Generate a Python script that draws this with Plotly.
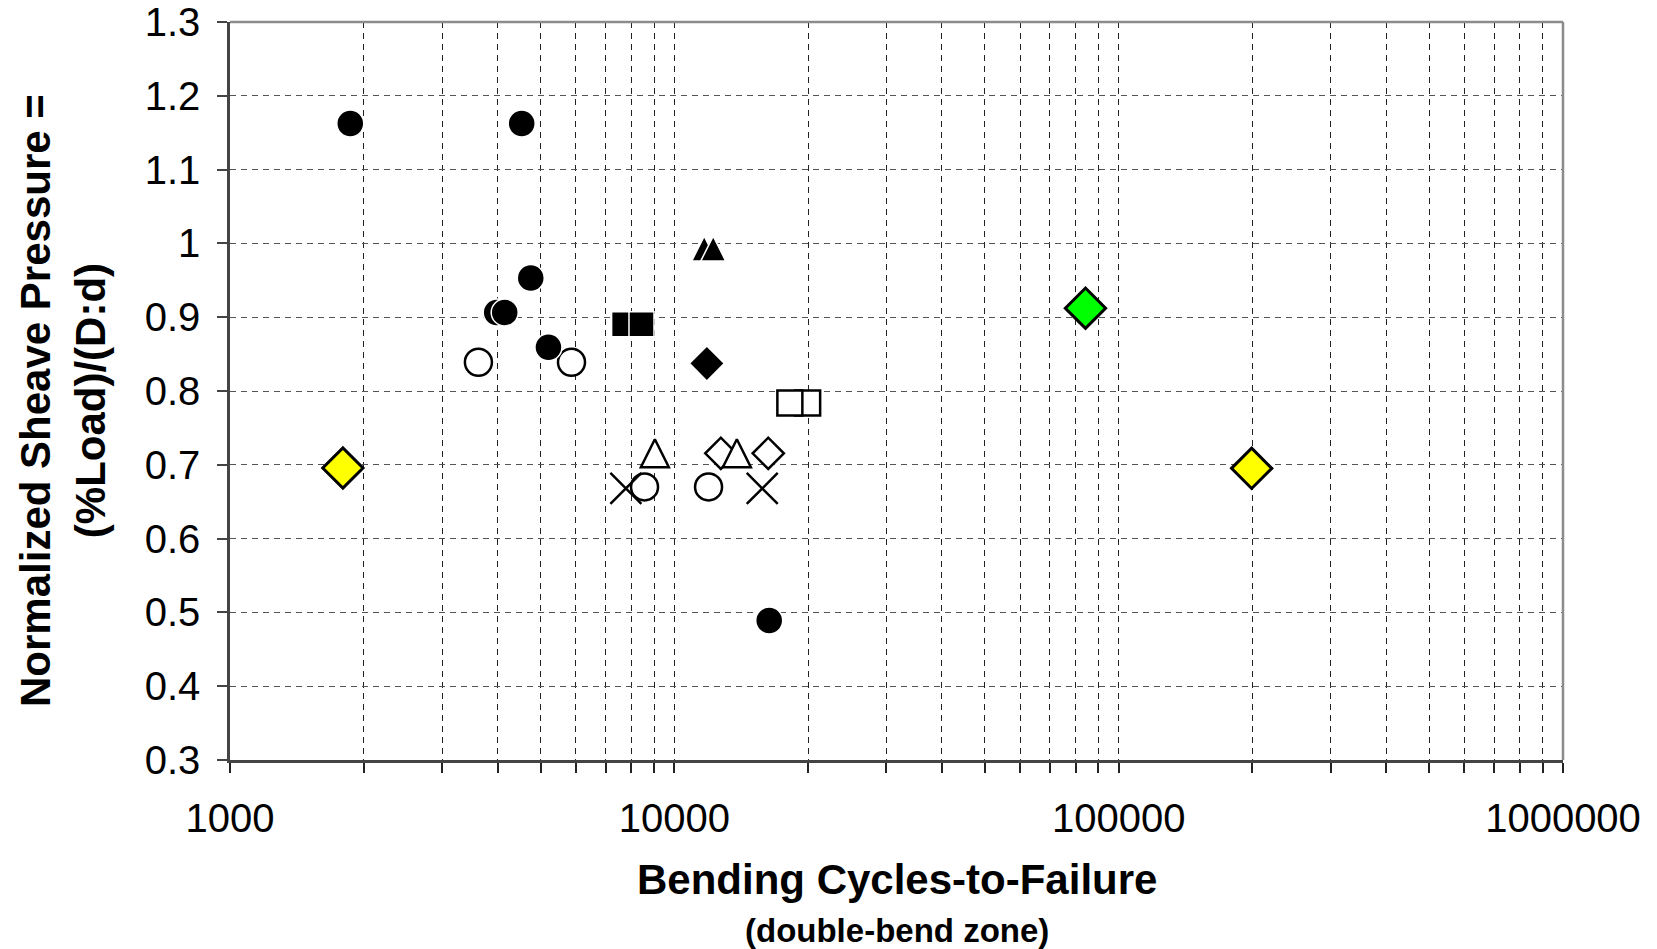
import plotly.graph_objects as go

# ---------------- data ----------------
filled_circle_x = [1865, 4534, 4752, 3983, 4152, 5208, 16350]
filled_circle_y = [1.1625, 1.1625, 0.953, 0.9064, 0.9064, 0.8594, 0.489]

open_circle_x = [3623, 5869, 8569, 11940]
open_circle_y = [0.839, 0.839, 0.670, 0.670]

filled_triangle_x = [11674, 12233]
filled_triangle_y = [0.993, 0.993]

filled_square_x = [7709, 8435]
filled_square_y = [0.8905, 0.8905]

filled_diamond_x = [11836]
filled_diamond_y = [0.8374]

open_square_x = [19953, 18197]
open_square_y = [0.7836, 0.7836]

open_diamond_x = [12725, 16268]
open_diamond_y = [0.7156, 0.7156]

open_triangle_x = [9040, 13826]
open_triangle_y = [0.7156, 0.7156]

cross_x = [7779, 15770]
cross_y = [0.668, 0.668]

yellow_diamond_x = [1795, 199200]
yellow_diamond_y = [0.6957, 0.6952]

green_diamond_x = [84200]
green_diamond_y = [0.9122]

# ticks
x_decades = [1000, 10000, 100000, 1000000]
x_tick_vals = []
x_tick_text = []
for d in x_decades:
    for m in range(1, 10):
        if d == 1000000 and m > 1:
            break
        x_tick_vals.append(d * m)
        x_tick_text.append(str(d) if m == 1 else "")

y_tick_vals = [0.3, 0.4, 0.5, 0.6, 0.7, 0.8, 0.9, 1.0, 1.1, 1.2, 1.3]
y_tick_text = ["0.3", "0.4", "0.5", "0.6", "0.7", "0.8", "0.9", "1", "1.1", "1.2", "1.3"]

FONT = "Liberation Sans, Arial, sans-serif"

fig = go.Figure()

def add(x, y, symbol, size, color, lcolor, lwidth, **extra):
    marker = dict(symbol=symbol, size=size, color=color,
                  line=dict(color=lcolor, width=lwidth))
    marker.update(extra)
    fig.add_trace(go.Scatter(
        x=x, y=y, mode="markers", marker=marker,
        showlegend=False, hoverinfo="x+y"))

add(open_circle_x, open_circle_y, "circle", 27, "white", "black", 2.5)
add(filled_circle_x, filled_circle_y, "circle", 27, "black", "white", 1.5)
# upright triangle centred on the point: arrow-down rotated 180 deg, shifted by half its height
add(filled_triangle_x, filled_triangle_y, "arrow-down", 25, "black", "white", 1.5,
    angle=180, standoff=12.5)
add(filled_square_x, filled_square_y, "square", 25, "black", "white", 1.5)
add(filled_diamond_x, filled_diamond_y, "diamond", 27, "black", "white", 1.5)
add(open_square_x, open_square_y, "square", 25, "white", "black", 2.5)
add(open_diamond_x, open_diamond_y, "diamond", 24, "white", "black", 2.5)
add(open_triangle_x, open_triangle_y, "arrow-down", 28, "white", "black", 2.5,
    angle=180, standoff=14)
add(cross_x, cross_y, "x-thin-open", 31, "black", "black", 2.5)
add(yellow_diamond_x, yellow_diamond_y, "diamond", 31, "#FFFF00", "black", 3)
add(green_diamond_x, green_diamond_y, "diamond", 31, "#00FF00", "black", 3)

fig.update_xaxes(
    type="log", range=[3, 6], automargin=False,
    tickvals=x_tick_vals, ticktext=x_tick_text,
    ticks="outside", ticklen=10, tickwidth=1.5, tickcolor="#222222",
    showgrid=True, gridcolor="#222222", gridwidth=1, griddash="6px,5px",
    showline=True, linecolor="#444444", linewidth=2.5, mirror=False,
    zeroline=False,
    tickfont=dict(family=FONT, size=40, color="black"),
    ticklabelstandoff=11,
)
fig.update_yaxes(
    range=[0.3, 1.3], automargin=False,
    tickvals=y_tick_vals, ticktext=y_tick_text,
    ticks="outside", ticklen=10, tickwidth=1.5, tickcolor="#444444",
    showgrid=True, gridcolor="#555555", gridwidth=1, griddash="6px,5px",
    showline=True, linecolor="#444444", linewidth=2.5, mirror=False,
    zeroline=False,
    tickfont=dict(family=FONT, size=40, color="black"),
    ticklabelstandoff=9,
)

# top and right borders of the plot area (lighter grey)
fig.add_shape(type="line", xref="paper", yref="paper", x0=0, x1=1, y0=1, y1=1,
              line=dict(color="#8c8c8c", width=2.5))
fig.add_shape(type="line", xref="paper", yref="paper", x0=1, x1=1, y0=0, y1=1,
              line=dict(color="#8c8c8c", width=2.5))

fig.add_annotation(text="<b>Bending Cycles-to-Failure</b>", xref="paper", yref="paper",
                   x=0.5, y=-0.1626, xanchor="center", yanchor="middle", showarrow=False,
                   font=dict(family=FONT, size=42, color="black"))
fig.add_annotation(text="<b>(double-bend zone)</b>", xref="paper", yref="paper",
                   x=0.5, y=-0.2304, xanchor="center", yanchor="middle", showarrow=False,
                   font=dict(family=FONT, size=33, color="black"))
fig.add_annotation(text="<b>Normalized Sheave Pressure =<br>(%Load)/(D:d)</b>",
                   xref="paper", yref="paper", x=-0.1253, y=0.4878, textangle=-90,
                   xanchor="center", yanchor="middle", showarrow=False,
                   font=dict(family=FONT, size=42, color="black"))

fig.update_layout(
    width=1657, height=949, autosize=False,
    margin=dict(l=230, r=94, t=22, b=189, pad=0),
    paper_bgcolor="white", plot_bgcolor="white",
    font=dict(family=FONT, color="black"),
)

fig.write_html("out.html")
